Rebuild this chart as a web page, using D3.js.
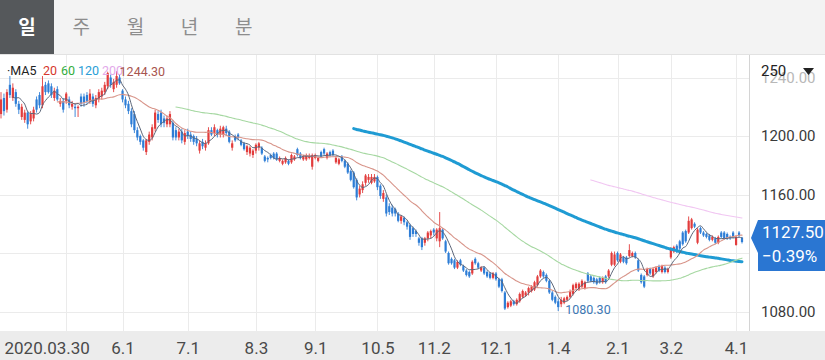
<!DOCTYPE html>
<html><head><meta charset="utf-8">
<script src="https://cdn.jsdelivr.net/npm/d3@7"></script>
<style>
html,body{margin:0;padding:0;background:#fff;overflow:hidden;}
svg{display:block;}
</style></head><body>
<svg id="c" width="825" height="360"></svg>
<script>
const tabs = ["일","주","월","년","분"];
const dates = [
"2020.03.30","2020.03.31",
"2020.04.01","2020.04.02","2020.04.03","2020.04.06","2020.04.07","2020.04.08","2020.04.09","2020.04.10","2020.04.13","2020.04.14","2020.04.16","2020.04.17","2020.04.20","2020.04.21","2020.04.22","2020.04.23","2020.04.24","2020.04.27","2020.04.28","2020.04.29",
"2020.05.04","2020.05.06","2020.05.07","2020.05.08","2020.05.11","2020.05.12","2020.05.13","2020.05.14","2020.05.15","2020.05.18","2020.05.19","2020.05.20","2020.05.21","2020.05.22","2020.05.25","2020.05.26","2020.05.27","2020.05.28","2020.05.29",
"2020.06.01","2020.06.02","2020.06.03","2020.06.04","2020.06.05","2020.06.08","2020.06.09","2020.06.10","2020.06.11","2020.06.12","2020.06.15","2020.06.16","2020.06.17","2020.06.18","2020.06.19","2020.06.22","2020.06.23","2020.06.24","2020.06.25","2020.06.26","2020.06.29","2020.06.30",
"2020.07.01","2020.07.02","2020.07.03","2020.07.06","2020.07.07","2020.07.08","2020.07.09","2020.07.10","2020.07.13","2020.07.14","2020.07.15","2020.07.16","2020.07.17","2020.07.20","2020.07.21","2020.07.22","2020.07.23","2020.07.24","2020.07.27","2020.07.28","2020.07.29","2020.07.30","2020.07.31",
"2020.08.03","2020.08.04","2020.08.05","2020.08.06","2020.08.07","2020.08.10","2020.08.11","2020.08.12","2020.08.13","2020.08.14","2020.08.18","2020.08.19","2020.08.20","2020.08.21","2020.08.24","2020.08.25","2020.08.26","2020.08.27","2020.08.28","2020.08.31",
"2020.09.01","2020.09.02","2020.09.03","2020.09.04","2020.09.07","2020.09.08","2020.09.09","2020.09.10","2020.09.11","2020.09.14","2020.09.15","2020.09.16","2020.09.17","2020.09.18","2020.09.21","2020.09.22","2020.09.23","2020.09.24","2020.09.25","2020.09.28","2020.09.29",
"2020.10.05","2020.10.06","2020.10.07","2020.10.08","2020.10.12","2020.10.13","2020.10.14","2020.10.15","2020.10.16","2020.10.19","2020.10.20","2020.10.21","2020.10.22","2020.10.23","2020.10.26","2020.10.27","2020.10.28","2020.10.29","2020.10.30",
"2020.11.02","2020.11.03","2020.11.04","2020.11.05","2020.11.06","2020.11.09","2020.11.10","2020.11.11","2020.11.12","2020.11.13","2020.11.16","2020.11.17","2020.11.18","2020.11.19","2020.11.20","2020.11.23","2020.11.24","2020.11.25","2020.11.26","2020.11.27","2020.11.30",
"2020.12.01","2020.12.02","2020.12.03","2020.12.04","2020.12.07","2020.12.08","2020.12.09","2020.12.10","2020.12.11","2020.12.14","2020.12.15","2020.12.16","2020.12.17","2020.12.18","2020.12.21","2020.12.22","2020.12.23","2020.12.24","2020.12.28","2020.12.29","2020.12.30",
"2021.01.04","2021.01.05","2021.01.06","2021.01.07","2021.01.08","2021.01.11","2021.01.12","2021.01.13","2021.01.14","2021.01.15","2021.01.18","2021.01.19","2021.01.20","2021.01.21","2021.01.22","2021.01.25","2021.01.26","2021.01.27","2021.01.28","2021.01.29",
"2021.02.01","2021.02.02","2021.02.03","2021.02.04","2021.02.05","2021.02.08","2021.02.09","2021.02.10","2021.02.15","2021.02.16","2021.02.17","2021.02.18","2021.02.19","2021.02.22","2021.02.23","2021.02.24","2021.02.25","2021.02.26",
"2021.03.02","2021.03.03","2021.03.04","2021.03.05","2021.03.08","2021.03.09","2021.03.10","2021.03.11","2021.03.12","2021.03.15","2021.03.16","2021.03.17","2021.03.18","2021.03.19","2021.03.22","2021.03.23","2021.03.24","2021.03.25","2021.03.26","2021.03.29","2021.03.30","2021.03.31",
"2021.04.01","2021.04.02","2021.04.05"];
const open = [
1215,1226,1218,1235,1226,1230,1222,1213,1211,1216, 1210,1212,1225,1228,1221,1235,1236,1234,1226,1232,
1222,1224,1224,1225,1220,1220,1219,1227,1227,1228, 1224,1227,1221,1225,1227,1230,1234,1240,1232,1235,
1240,1231,1225,1222,1217,1215,1204,1200,1197,1189, 1196,1199,1205,1215,1216,1212,1208,1208,1209,1204,
1199,1203,1196,1203,1201,1200,1198,1190,1196,1192, 1195,1204,1202,1204,1201,1201,1205,1203,1192,1200,
1201,1197,1195,1189,1188,1187,1190,1192,1192,1186, 1185,1187,1188,1188,1183,1181,1182,1183,1182,1184,
1191,1188,1184,1184,1185,1179,1185,1183,1189,1191, 1185,1189,1190,1182,1181,1186,1183,1181,1176,1175,
1170,1160,1163,1168,1170,1168,1169,1172,1166,1157, 1158,1152,1151,1150,1147,1142,1144,1141,1139,1137,
1135,1130,1130,1127,1130,1132,1136,1130,1128,1136, 1128,1120,1116,1115,1110,1115,1111,1108,1107,1106,
1116,1113,1108,1110,1107,1106,1103,1106,1102,1102, 1093,1083,1084,1087,1085,1087,1090,1091,1093,1094,
1095,1098,1104,1107,1105,1101,1093,1090,1087,1085, 1086,1088,1090,1092,1096,1095,1097,1096,1106,1104,
1103,1102,1103,1100,1104,1104,1112,1112,1120,1114, 1117,1117,1118,1118,1120,1115,1105,1104,1105,1109,
1104,1107,1111,1107,1110,1107,1117,1121,1125,1128, 1134,1135,1134,1137,1140,1127,1137,1134,1133,1132,
1129,1130,1127,1134,1134,1133,1131,1134,1125.5,1134, 1130.5];
const high = [
1230,1229,1232,1241,1236,1232,1224,1222,1218,1217, 1217,1220,1227,1230,1241,1237,1238,1236,1233,1234,
1226,1226,1230,1227,1224,1222,1221,1229,1229,1230, 1232,1229,1228,1232,1233,1237,1244,1242,1239,1244.3,
1242,1232,1227,1224,1219,1217,1206,1201,1198,1198, 1203,1208,1218,1217,1218,1214,1214,1217,1211,1206,
1205,1205,1204,1205,1203,1201,1200,1197,1198,1197, 1206,1206,1208,1205,1207,1207,1207,1204,1197,1201,
1202,1198,1196,1194,1193,1191,1195,1196,1193,1187, 1186,1188,1189,1189,1186,1184,1186,1184,1188,1187,
1192,1189,1187,1188,1188,1188,1188,1186,1190,1192, 1189,1190,1191,1186,1185,1187,1184,1182,1177,1176,
1171,1166,1169,1174,1174,1174,1174,1173,1167,1163, 1160,1154,1153,1151,1148,1146,1145,1142,1140,1138,
1136,1131,1131,1131,1135,1136,1137,1137,1148,1137, 1129,1121,1117,1116,1115,1116,1112,1109,1108,1115,
1117,1114,1111,1111,1108,1107,1107,1107,1103,1103, 1094,1087,1088,1088,1089,1093,1095,1094,1097,1098,
1101,1105,1109,1108,1106,1102,1094,1091,1089,1090, 1090,1091,1095,1099,1100,1100,1102,1101,1107,1105,
1104,1103,1104,1104,1105,1109,1121,1121,1121,1120, 1118,1118,1126,1121,1121,1116,1106,1105,1110,1110,
1110,1111,1112,1112,1111,1110,1124,1125,1126,1129, 1135,1136,1145,1144,1141,1137,1138,1135,1134,1133,
1132,1131,1132,1135,1135,1134,1132,1135,1132,1135, 1131];
const low = [
1212,1214,1216,1226,1224,1220,1215,1211,1209,1205, 1208,1210,1216,1219,1219,1228,1229,1226,1224,1224,
1220,1216,1222,1219,1218,1213,1213,1220,1220,1222, 1222,1220,1219,1223,1225,1228,1232,1233,1230,1233,
1235,1223,1219,1215,1206,1202,1197,1194,1190,1187, 1194,1197,1203,1209,1206,1206,1206,1206,1197,1197,
1197,1195,1194,1198,1196,1194,1193,1188,1191,1190, 1194,1200,1200,1199,1199,1199,1200,1195,1190,1196,
1197,1193,1190,1187,1186,1185,1188,1190,1187,1182, 1182,1184,1184,1183,1182,1180,1181,1180,1181,1183,
1186,1184,1183,1183,1184,1177,1184,1182,1185,1187, 1184,1186,1186,1181,1180,1182,1178,1174,1169,1164,
1156,1158,1161,1166,1168,1167,1168,1163,1157,1155, 1145,1146,1145,1145,1141,1140,1139,1136,1129,1131,
1131,1125,1122,1125,1128,1130,1132,1128,1124,1129, 1120,1112,1112,1109,1109,1111,1107,1104,1103,1105,
1112,1109,1107,1105,1103,1102,1102,1101,1096,1093, 1081,1082,1083,1084,1084,1086,1089,1090,1091,1093,
1094,1097,1103,1103,1100,1092,1087,1085,1080.3,1083, 1085,1087,1089,1091,1095,1094,1096,1095,1100,1100,
1099,1098,1099,1099,1099,1103,1111,1111,1114,1113, 1113,1112,1117,1117,1116,1107,1099,1096,1104,1105,
1103,1106,1107,1106,1106,1106,1116,1120,1120,1122, 1125,1127,1133,1136,1137,1126,1133,1131,1130,1128,
1128,1126,1126,1130,1129,1129,1129,1130,1125,1131, 1126.5];
const close = [
1225,1217,1230,1228,1233,1222,1218,1220,1216,1208, 1215,1218,1218,1221,1234,1230,1230,1228,1231,1225,
1224,1218,1229,1221,1222,1219,1220,1222,1223,1224, 1229,1222,1226,1230,1231,1235,1243,1235,1237,1241,
1236,1225,1221,1217,1208,1204,1199,1196,1192,1197, 1201,1206,1216,1211,1208,1209,1212,1215,1199,1199,
1203,1197,1202,1200,1198,1196,1195,1195,1193,1195, 1204,1201,1206,1201,1205,1206,1202,1196,1195,1197,
1199,1194,1191,1193,1192,1190,1194,1195,1188,1183, 1184,1185,1185,1184,1185,1183,1185,1181,1187,1186,
1187,1185,1186,1187,1186,1187,1187,1185,1186,1188, 1188,1187,1187,1185,1184,1183,1179,1175,1170,1165,
1158,1164,1167,1173,1172,1172,1172,1165,1159,1161, 1147,1148,1147,1147,1142,1145,1141,1138,1131,1133,
1133,1127,1124,1130,1134,1135,1134,1136,1137,1130, 1121,1113,1113,1110,1114,1112,1108,1105,1104,1114,
1113,1110,1110,1106,1104,1103,1106,1102,1097,1094, 1082,1086,1087,1085,1088,1092,1094,1093,1096,1097,
1100,1104,1108,1104,1101,1093,1088,1086,1083,1088, 1089,1090,1094,1098,1099,1099,1101,1100,1101,1101,
1100,1099,1100,1103,1100,1108,1120,1119,1115,1119, 1114,1113,1122,1120,1117,1108,1100,1097,1109,1106,
1109,1110,1108,1111,1107,1109,1123,1124,1121,1123, 1126,1128,1142,1143,1138,1136,1134,1132,1131,1129,
1131,1127,1131,1131,1130,1130,1130,1131,1131,1131.9, 1127.5];
const maPeriods = [5, 20, 60, 120, 200];
const maNames = ["·MA5", "20", "60", "120", "200"];
const yTicks = [1240, 1200, 1160, 1120, 1080];
const gridDates = ["2020.05.04","2020.06.01","2020.07.01","2020.08.03","2020.09.01","2020.10.05","2020.11.02","2020.12.01","2021.01.04","2021.02.01","2021.03.02","2021.04.01"];
const tickDates = ["2020.03.30","2020.06.01","2020.07.01","2020.08.03","2020.09.01","2020.10.05","2020.11.02","2020.12.01","2021.01.04","2021.02.01","2021.03.02","2021.04.01"];
const tickLabels = ["2020.03.30","6.1","7.1","8.3","9.1","10.5","11.2","12.1","1.4","2.1","3.2","4.1"];
const periodLabel = "250";

const svg = d3.select("#c");
const FONT = "Roboto, 'Liberation Sans', Arial, sans-serif";
const KFONT = "'Noto Sans CJK KR', 'Noto Sans', sans-serif";
const UP = "#e23c3c", DOWN = "#2d7dd6";
const maColors = ["#5c6679", "#d8958a", "#a6d8a2", "#1f9bd3", "#f1c6f2"];
const maWidths = [1, 1.1, 1.1, 3, 1.1];
const legendColors = ["#222", "#d6372d", "#33ad3d", "#2a9ed6", "#e3a9ea"];

// backgrounds
svg.append("rect").attr("x",0).attr("y",0).attr("width",825).attr("height",360).attr("fill","#fff");
svg.append("rect").attr("x",0).attr("y",0).attr("width",825).attr("height",54).attr("fill","#f3f3f3");
svg.append("rect").attr("x",0).attr("y",0).attr("width",54).attr("height",54).attr("fill","#55585b");
svg.append("line").attr("x1",0).attr("x2",825).attr("y1",54.5).attr("y2",54.5).attr("stroke","#e2e2e2");
svg.append("rect").attr("x",0).attr("y",331).attr("width",825).attr("height",29).attr("fill","#ececec");

// tabs
svg.selectAll("text.tab").data(tabs).join("text").attr("class","tab")
  .attr("x",(d,i)=>27 + i*54.2).attr("y",34)
  .attr("text-anchor","middle").attr("font-family",KFONT).attr("font-size",19)
  .attr("font-weight",(d,i)=>i===0?700:400)
  .attr("fill",(d,i)=>i===0?"#fff":"#8d8d8d").text(d=>d);

const x = d3.scalePoint().domain(dates).range([1, 742]);
const y = d3.scaleLinear().domain([1080, 1240]).range([311.5, 77.5]);

// grid
const grid = svg.append("g");
grid.selectAll("line.h").data(yTicks).join("line").attr("class","h")
  .attr("x1",0).attr("x2",749).attr("y1",d=>Math.round(y(d))+0.5).attr("y2",d=>Math.round(y(d))+0.5)
  .attr("stroke","#ebebeb");
grid.selectAll("line.v").data(gridDates).join("line").attr("class","v")
  .attr("x1",d=>Math.round(x(d))+0.5).attr("x2",d=>Math.round(x(d))+0.5).attr("y1",55).attr("y2",331)
  .attr("stroke","#ebebeb");

// candles
const idx = d3.range(dates.length);
const cg = svg.append("g");
cg.selectAll("line.w").data(idx).join("line").attr("class","w")
  .attr("x1",i=>x(dates[i])).attr("x2",i=>x(dates[i]))
  .attr("y1",i=>y(high[i])).attr("y2",i=>y(low[i]))
  .attr("stroke",i=>close[i]>=open[i]?UP:DOWN).attr("stroke-width",0.9);
cg.selectAll("rect.b").data(idx).join("rect").attr("class","b")
  .attr("x",i=>x(dates[i])-1.1).attr("width",2.2)
  .attr("y",i=>Math.min(y(open[i]),y(close[i])))
  .attr("height",i=>Math.max(1,Math.abs(y(open[i])-y(close[i]))))
  .attr("fill",i=>close[i]>=open[i]?UP:DOWN);

// moving averages
function movingAvg(n){
  const out=[];
  for(let i=n-1;i<close.length;i++){
    out.push({i, v:d3.mean(close.slice(i-n+1,i+1))});
  }
  return out;
}
const line = d3.line().x(d=>x(dates[d.i])).y(d=>y(d.v)).curve(d3.curveMonotoneX);
[4,3,2,1,0].forEach(k=>{
  svg.append("path").datum(movingAvg(maPeriods[k])).attr("d",line)
    .attr("fill","none").attr("stroke",maColors[k]).attr("stroke-width",maWidths[k])
    .attr("stroke-linejoin","round").attr("stroke-linecap","round");
});

// legend
const legX = [7, 43, 61, 78, 102];
svg.selectAll("text.leg").data(maNames).join("text").attr("class","leg")
  .attr("x",(d,i)=>legX[i]).attr("y",75)
  .attr("font-family",FONT).attr("font-size",12.5)
  .attr("fill",(d,i)=>legendColors[i]).text(d=>d);

// max / min labels
const iMax = d3.maxIndex(high), iMin = d3.minIndex(low);
svg.append("text").attr("x",x(dates[iMax])+3).attr("y",y(high[iMax])+5)
  .attr("font-family",FONT).attr("font-size",12.5).attr("fill","#a8554f")
  .text(d3.format(".2f")(high[iMax]));
svg.append("text").attr("x",x(dates[iMin])+7).attr("y",y(low[iMin])+3)
  .attr("font-family",FONT).attr("font-size",12.5).attr("fill","#3d78b4")
  .text(d3.format(".2f")(low[iMin]));

// right panel
const badgeTop = 220, badgeBottom = 271;
svg.append("line").attr("x1",749.5).attr("x2",749.5).attr("y1",55).attr("y2",331).attr("stroke","#d4d4d4");
const ya = svg.append("g").attr("transform","translate(758,0)")
  .call(d3.axisRight(y).tickValues(yTicks.filter(v=>y(v)<badgeTop-8 || y(v)>badgeBottom+8))
    .tickFormat(d3.format(".2f")).tickSize(0).tickPadding(3));
ya.select(".domain").remove();
ya.selectAll("text").attr("font-family",FONT).attr("font-size",15).attr("fill",d=>d===1240?"#b8b8b8":"#3a3a3a");

svg.append("text").attr("x",761).attr("y",76).attr("font-family",FONT).attr("font-size",15)
  .attr("fill","#222").text(periodLabel);
svg.append("path").attr("d","M803,68 L814,68 L808.5,75 Z").attr("fill","#222");

// price badge
const last = close[close.length-1], prev = close[close.length-2];
const chg = (last-prev)/prev*100;
svg.append("path").attr("d",`M758,${badgeTop} L825,${badgeTop} L825,${badgeBottom} L758,${badgeBottom} L758,253 L751,238 Z`).attr("fill","#2a76d2");
svg.append("text").attr("x",762).attr("y",238).attr("font-family",FONT).attr("font-size",17)
  .attr("fill","#fff").text(d3.format(".2f")(last));
svg.append("text").attr("x",762).attr("y",262).attr("font-family",FONT).attr("font-size",17)
  .attr("fill","#fff").text((chg>0?"+":"")+d3.format(".2f")(chg)+"%");

// bottom axis
const xa = svg.append("g").attr("transform","translate(0,340)")
  .call(d3.axisBottom(x).tickValues(tickDates).tickFormat((d,i)=>tickLabels[i]).tickSize(0).tickPadding(2));
xa.select(".domain").remove();
xa.selectAll("text").attr("font-family",FONT).attr("font-size",17).attr("fill","#4a4a4a");
xa.selectAll("text").filter((d,i)=>i===0).attr("text-anchor","start").attr("x",4-x(dates[0]));
</script>
</body></html>
